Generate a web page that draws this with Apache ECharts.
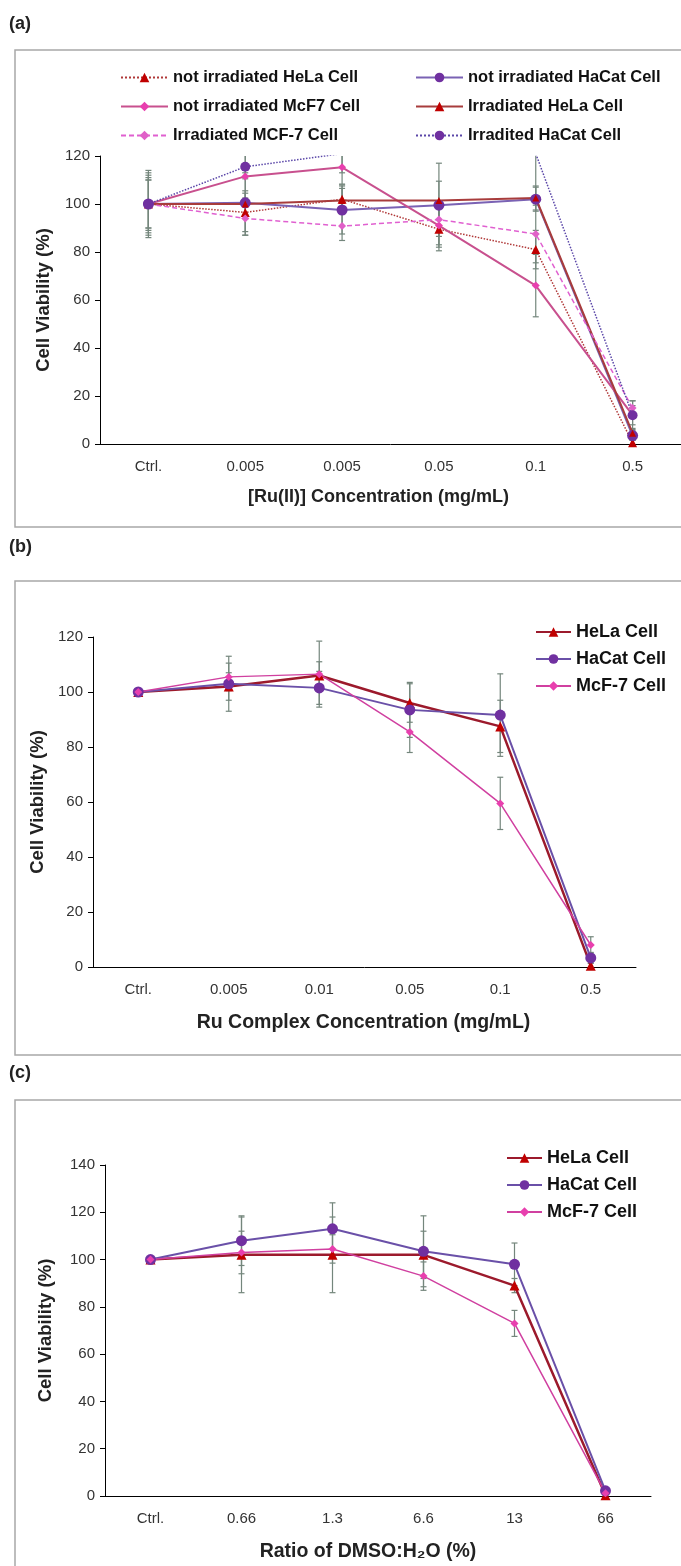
<!DOCTYPE html>
<html>
<head>
  <meta charset="UTF-8">
  <title>Cell Viability</title>
  <script src="https://cdn.jsdelivr.net/npm/echarts@6/dist/echarts.min.js"></script>
  <style>
    html, body { margin: 0; padding: 0; background: #fff; }
    #main { width: 681px; height: 1566px; }
  </style>
</head>
<body>
  <div id="main"></div>
  <script type="text/javascript">
    // x categories of the three panels
    var catsA = ['Ctrl.', '0.005', '0.005', '0.05', '0.1', '0.5'];
    var catsB = ['Ctrl.', '0.005', '0.01', '0.05', '0.1', '0.5'];
    var catsC = ['Ctrl.', '0.66', '1.3', '6.6', '13', '66'];

    // (a) values and error bars (+/-)
    var aNotIrrHeLa = [100, 96.5, 102, 89.5, 81, 0.5];
    var aNotIrrHeLaErr = [10, 8, 6, 9, 8, 1];
    var aNotIrrHaCat = [100, 100.5, 97.5, 99.5, 102, 3.5];
    var aNotIrrHaCatErr = [14, 5, 10, 17.5, 5, 2];
    var aNotIrrMcF7 = [100, 111.5, 115.3, 91, 66, 12];
    var aNotIrrMcF7Err = [12, 9, 7, 8, 13, 4];
    var aIrrHeLa = [100, 100, 101.5, 101.5, 102.5, 4.5];
    var aIrrHeLaErr = [13, 13, 5, 8, 5, 2];
    var aIrrMCF7 = [100, 94, 90.8, 93.5, 87.5, 15];
    var aIrrMCF7Err = [11, 7, 6, 7, 12, 3];
    var aIrrHaCat = [100, 115.5, 121, 124, 121, 12];   // above 120 -> cut by the axis
    var aIrrHaCatErr = [10, 5, 8, 1, 20, 6];

    // (b)
    var bHeLa = [100, 102, 106, 96, 87.5, 0.5];
    var bHeLaErr = [1, 5, 5, 7, 9.5, 1];
    var bHaCat = [100, 103, 101.5, 93.5, 91.6, 3.3];
    var bHaCatErr = [1, 10, 6, 10, 15, 2];
    var bMcF7 = [100, 105.5, 106.5, 85.5, 59.5, 8];
    var bMcF7Err = [1, 5, 12, 7.5, 9.5, 3];

    // (c)
    var cHeLa = [100, 102, 102, 102, 89, 0.3];
    var cHeLaErr = [1, 16, 16, 10, 3, 1];
    var cHaCat = [100, 108, 113, 103.5, 98, 2.2];
    var cHaCatErr = [1, 10.5, 11, 15, 9, 1];
    var cMcF7 = [100, 103, 104.5, 93, 73, 1.2];
    var cMcF7Err = [1, 9, 6, 6, 5.5, 1];

    var FONT = 'Liberation Sans, Arial, sans-serif';
    var RED = '#c00000', PURPLE = '#7030a0', PINK = '#e83fae';

    var myChart = echarts.init(document.getElementById('main'));

    function errData(vals, errs) {
      return vals.map(function (v, i) { return [i, v - errs[i], v + errs[i]]; });
    }

    function renderErr(params, api) {
      var x = api.value(0);
      var lo = api.coord([x, api.value(1)]);
      var hi = api.coord([x, api.value(2)]);
      var w = 3;
      var st = { stroke: '#74867c', lineWidth: 1.2 };
      return {
        type: 'group',
        children: [
          { type: 'line', shape: { x1: lo[0], y1: lo[1], x2: hi[0], y2: hi[1] }, style: st },
          { type: 'line', shape: { x1: lo[0] - w, y1: lo[1], x2: lo[0] + w, y2: lo[1] }, style: st },
          { type: 'line', shape: { x1: hi[0] - w, y1: hi[1], x2: hi[0] + w, y2: hi[1] }, style: st }
        ]
      };
    }

    function errSeries(idx, vals, errs) {
      return {
        type: 'custom', xAxisIndex: idx, yAxisIndex: idx, clip: true, z: 1,
        renderItem: renderErr, encode: { x: 0, y: [1, 2] },
        data: errData(vals, errs), silent: true
      };
    }

    function lineSeries(idx, name, vals, lineColor, lineType, lineWidth, symbol, size, markColor) {
      return {
        type: 'line', name: name, xAxisIndex: idx, yAxisIndex: idx, data: vals,
        symbol: symbol, symbolSize: size, z: 3,
        lineStyle: { color: lineColor, type: lineType, width: lineWidth },
        itemStyle: { color: markColor, borderWidth: 0 }
      };
    }

    function xAxis(idx, cats, name, nameSize, gap, shift) {
      return {
        type: 'category', gridIndex: idx, data: cats,
        name: name, nameLocation: 'middle', nameGap: gap,
        nameTextStyle: {
          fontFamily: FONT, fontWeight: 'bold', fontSize: nameSize, color: '#222',
          padding: [0, shift * 2, 0, 0]
        },
        axisLine: { lineStyle: { color: '#000', width: 1 } },
        axisTick: { inside: false, length: 5, lineStyle: { color: '#000' } },
        axisLabel: { fontFamily: FONT, fontSize: 15, color: '#333', margin: 15 },
        splitLine: { show: false }
      };
    }

    function yAxis(idx, max, gap) {
      return {
        type: 'value', gridIndex: idx, min: 0, max: max, interval: 20,
        name: 'Cell Viability (%)', nameLocation: 'middle', nameGap: gap,
        nameTextStyle: { fontFamily: FONT, fontWeight: 'bold', fontSize: 18.5, color: '#222' },
        axisLine: { show: true, lineStyle: { color: '#000', width: 1 } },
        axisTick: { show: true, inside: false, length: 5, lineStyle: { color: '#000' } },
        axisLabel: { fontFamily: FONT, fontSize: 15, color: '#333', margin: 10 },
        splitLine: { show: false }
      };
    }

    function legend(left, top, names, itemWidth, gap, fontSize) {
      return {
        orient: 'vertical', left: left, top: top, data: names, padding: 0,
        itemWidth: itemWidth, itemHeight: 12, itemGap: gap,
        textStyle: { fontFamily: FONT, fontWeight: 'bold', fontSize: fontSize, color: '#111' },
        selectedMode: false
      };
    }

    var frame = { fill: 'none', stroke: '#a8a8a8', lineWidth: 1.5 };
    var labelFont = 'bold 18px Liberation Sans Narrow, Liberation Sans, sans-serif';

    var option = {
      animation: false,
      backgroundColor: '#fff',
      graphic: [
        { type: 'rect', shape: { x: 15, y: 50, width: 700, height: 477 }, style: frame },
        { type: 'rect', shape: { x: 15, y: 581, width: 700, height: 474 }, style: frame },
        { type: 'rect', shape: { x: 15, y: 1100, width: 700, height: 500 }, style: frame },
        { type: 'text', left: 9, top: 15, style: { text: '(a)', font: labelFont, fill: '#222' } },
        { type: 'text', left: 9, top: 538, style: { text: '(b)', font: labelFont, fill: '#222' } },
        { type: 'text', left: 9, top: 1064, style: { text: '(c)', font: labelFont, fill: '#222' } }
      ],
      grid: [
        { left: 100, top: 156, width: 582, height: 288 },
        { left: 93, top: 637, width: 543, height: 330 },
        { left: 105, top: 1165, width: 546, height: 331 }
      ],
      xAxis: [
        xAxis(0, catsA, '[Ru(II)] Concentration (mg/mL)', 18, 44, 12),
        xAxis(1, catsB, 'Ru Complex Concentration (mg/mL)', 19.5, 46, 1),
        xAxis(2, catsC, 'Ratio of DMSO:H\u2082O (%)', 19.5, 46, 10)
      ],
      yAxis: [yAxis(0, 120, 47), yAxis(1, 120, 36), yAxis(2, 140, 50)],
      legend: [
        legend(120, 69, ['not irradiated HeLa Cell', 'not irradiated McF7 Cell', 'Irradiated MCF-7 Cell'], 47, 12, 16.5),
        legend(415, 69, ['not irradiated HaCat Cell', 'Irradiated HeLa Cell', 'Irradited HaCat Cell'], 47, 12, 16.5),
        legend(535, 623, ['HeLa Cell', 'HaCat Cell', 'McF-7 Cell'], 35, 9, 18),
        legend(506, 1149, ['HeLa Cell', 'HaCat Cell', 'McF-7 Cell'], 35, 9, 18)
      ],
      series: [
        errSeries(0, aNotIrrHeLa, aNotIrrHeLaErr),
        errSeries(0, aNotIrrHaCat, aNotIrrHaCatErr),
        errSeries(0, aNotIrrMcF7, aNotIrrMcF7Err),
        errSeries(0, aIrrHeLa, aIrrHeLaErr),
        errSeries(0, aIrrMCF7, aIrrMCF7Err),
        errSeries(0, aIrrHaCat, aIrrHaCatErr),
        lineSeries(0, 'not irradiated HeLa Cell', aNotIrrHeLa, '#b03838', 'dotted', 1.5, 'triangle', 9, RED),
        lineSeries(0, 'not irradiated HaCat Cell', aNotIrrHaCat, '#7a62b4', 'solid', 2, 'circle', 11, PURPLE),
        lineSeries(0, 'not irradiated McF7 Cell', aNotIrrMcF7, '#c8508e', 'solid', 2, 'diamond', 8, PINK),
        lineSeries(0, 'Irradiated HeLa Cell', aIrrHeLa, '#a83c3c', 'solid', 2, 'triangle', 7, RED),
        lineSeries(0, 'Irradiated MCF-7 Cell', aIrrMCF7, '#e060d0', [5, 3], 1.5, 'diamond', 8, '#e060c8'),
        lineSeries(0, 'Irradited HaCat Cell', aIrrHaCat, '#5a46a8', 'dotted', 1.5, 'circle', 10, PURPLE),

        errSeries(1, bHeLa, bHeLaErr),
        errSeries(1, bHaCat, bHaCatErr),
        errSeries(1, bMcF7, bMcF7Err),
        lineSeries(1, 'HeLa Cell', bHeLa, '#9c1a2c', 'solid', 2.5, 'triangle', 10, RED),
        lineSeries(1, 'HaCat Cell', bHaCat, '#6a50a8', 'solid', 2, 'circle', 11, PURPLE),
        lineSeries(1, 'McF-7 Cell', bMcF7, '#d040a0', 'solid', 1.5, 'diamond', 8, PINK),

        errSeries(2, cHeLa, cHeLaErr),
        errSeries(2, cHaCat, cHaCatErr),
        errSeries(2, cMcF7, cMcF7Err),
        lineSeries(2, 'HeLa Cell', cHeLa, '#9c1a2c', 'solid', 2.5, 'triangle', 10, RED),
        lineSeries(2, 'HaCat Cell', cHaCat, '#6a50a8', 'solid', 2, 'circle', 11, PURPLE),
        lineSeries(2, 'McF-7 Cell', cMcF7, '#d040a0', 'solid', 1.5, 'diamond', 8, PINK)
      ]
    };

    myChart.setOption(option);
  </script>
</body>
</html>
